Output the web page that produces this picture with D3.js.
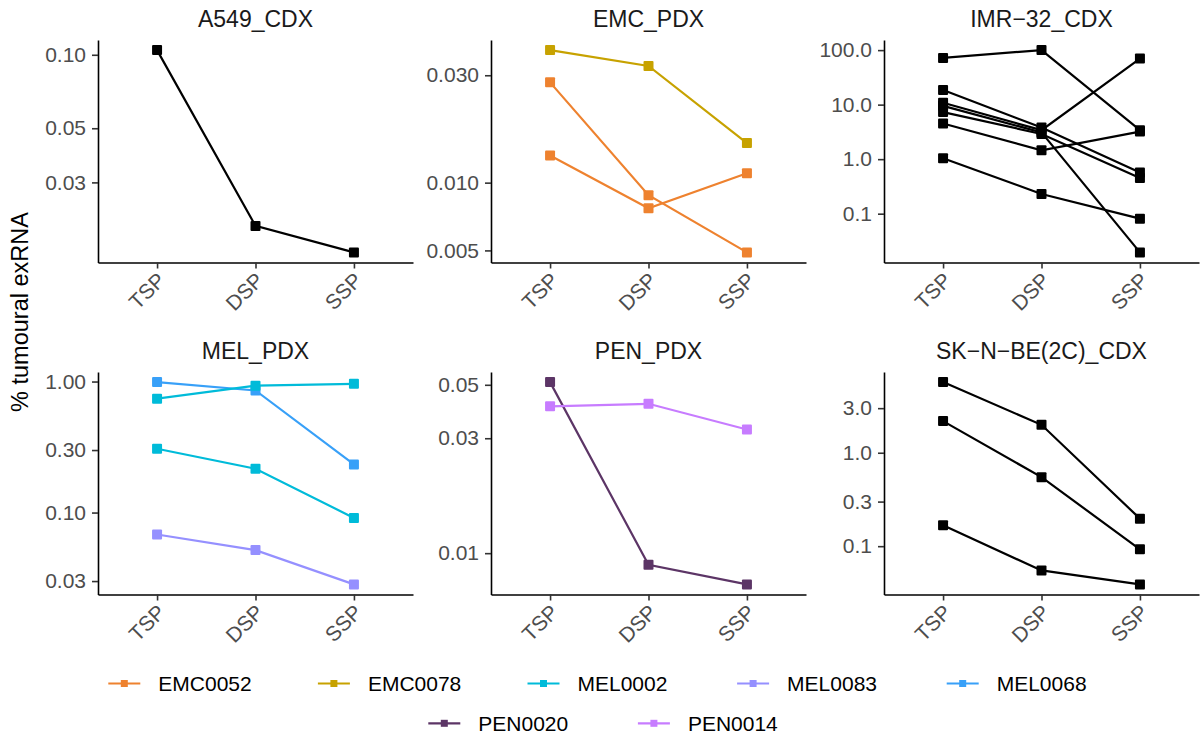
<!DOCTYPE html>
<html>
<head>
<meta charset="utf-8">
<script src="https://cdn.jsdelivr.net/npm/d3@7"></script>
<style>
  html, body { margin: 0; padding: 0; background: #fff; }
  svg { display: block; font-family: "Liberation Sans", Arial, Helvetica, sans-serif; }
</style>
</head>
<body>
<svg id="chart" width="1200" height="738"></svg>
<script>
// Sampling stages on the x axis
const stages = ["TSP", "DSP", "SSP"];

// Facet panels (model names)
const panels = ["A549_CDX", "EMC_PDX", "IMR\u221232_CDX", "MEL_PDX", "PEN_PDX", "SK\u2212N\u2212BE(2C)_CDX"];

// Samples shown in the colour legend, with their colours
const sampleNames  = ["EMC0052", "EMC0078", "MEL0002", "MEL0083", "MEL0068", "PEN0020", "PEN0014"];
const sampleColors = ["#EE822F", "#C7A200", "#00BBD9", "#9590FF", "#38A0F8", "#5C3566", "#C77CFF"];

// % tumoural exRNA per replicate line: [sample (null = CDX, drawn black), TSP, DSP, SSP]
const a549Cdx = [
  [null, 0.1045, 0.0199, 0.0155]
];
const emcPdx = [
  ["EMC0078", 0.0388, 0.0330, 0.0150],
  ["EMC0052", 0.0279, 0.0088, 0.0049],
  ["EMC0052", 0.0132, 0.0077, 0.0110]
];
const imr32Cdx = [
  [null, 72.0, 100.0, 3.4],
  [null, 18.6, 3.8, 0.57],
  [null, 10.8, 3.4, 70.0],
  [null, 9.5, 3.1, 0.0195],
  [null, 7.3, 2.9, 0.45],
  [null, 4.5, 1.45, 3.2],
  [null, 1.04, 0.23, 0.081]
];
const melPdx = [
  ["MEL0068", 0.99, 0.855, 0.233],
  ["MEL0002", 0.74, 0.93, 0.96],
  ["MEL0002", 0.307, 0.216, 0.091],
  ["MEL0083", 0.068, 0.0517, 0.0283]
];
const penPdx = [
  ["PEN0020", 0.0513, 0.00895, 0.00742],
  ["PEN0014", 0.0407, 0.0417, 0.0326]
];
const skNBe2cCdx = [
  [null, 5.7, 1.99, 0.197],
  [null, 2.18, 0.548, 0.0925],
  [null, 0.167, 0.055, 0.039]
];
const panelSeries = [a549Cdx, emcPdx, imr32Cdx, melPdx, penPdx, skNBe2cCdx];

// Y-axis breaks and their labels, one list per panel
const panelTicks = [
  [0.03, 0.05, 0.10],
  [0.005, 0.010, 0.030],
  [0.1, 1, 10, 100],
  [0.03, 0.10, 0.30, 1.00],
  [0.01, 0.03, 0.05],
  [0.1, 0.3, 1, 3]
];
const panelTickLabels = [
  ["0.03", "0.05", "0.10"],
  ["0.005", "0.010", "0.030"],
  ["0.1", "1.0", "10.0", "100.0"],
  ["0.03", "0.10", "0.30", "1.00"],
  ["0.01", "0.03", "0.05"],
  ["0.1", "0.3", "1.0", "3.0"]
];

const yTitle = "% tumoural exRNA";

// ---- layout ----
const svg = d3.select("#chart");
const colLeft = [98, 491, 884];
const rowTop = [40, 372];
const panelW = 315;
const panelH = 222.5;
const colorOf = d3.scaleOrdinal().domain(sampleNames).range(sampleColors);
const fontSize = 21;

panels.forEach((name, i) => {
  const left = colLeft[i % 3];
  const top = rowTop[Math.floor(i / 3)];
  const bottom = top + panelH;
  const series = panelSeries[i];

  const x = d3.scalePoint().domain(stages).range([left, left + panelW]).padding(0.6);

  // log scale with 5% padding of the log range on each side
  const all = series.flatMap(s => s.slice(1));
  const lo = Math.log10(d3.min(all)), hi = Math.log10(d3.max(all));
  const pad = (hi - lo) * 0.05;
  const y = d3.scaleLog().domain([10 ** (lo - pad), 10 ** (hi + pad)]).range([bottom, top]);

  const g = svg.append("g");

  // strip title
  g.append("text")
    .attr("x", left + panelW / 2)
    .attr("y", top - 13)
    .attr("text-anchor", "middle")
    .attr("fill", "#1A1A1A")
    .attr("font-size", 23)
    .text(name);

  // lines and square points
  const line = d3.line().x((d, k) => x(stages[k])).y(d => y(d));
  series.forEach(s => {
    const col = s[0] ? colorOf(s[0]) : "#000000";
    const vals = s.slice(1);
    g.append("path")
      .attr("d", line(vals))
      .attr("fill", "none")
      .attr("stroke", col)
      .attr("stroke-width", 2.2);
    g.selectAll(null)
      .data(vals)
      .enter().append("rect")
      .attr("x", (d, k) => x(stages[k]) - 5)
      .attr("y", d => y(d) - 5)
      .attr("width", 10)
      .attr("height", 10)
      .attr("rx", 1)
      .attr("fill", col);
  });

  // y axis
  const ticks = panelTicks[i], labels = panelTickLabels[i];
  const yAxis = g.append("g")
    .attr("transform", `translate(${left},0)`)
    .call(d3.axisLeft(y).tickValues(ticks).tickFormat((d, k) => labels[k])
      .tickSize(6).tickPadding(6).tickSizeOuter(0));

  // x axis
  const xAxis = g.append("g")
    .attr("transform", `translate(0,${bottom})`)
    .call(d3.axisBottom(x).tickSize(6).tickSizeOuter(0));
  xAxis.selectAll(".tick text")
    .attr("x", 0).attr("y", 0).attr("dy", 0)
    .attr("text-anchor", "end")
    .attr("transform", "translate(9,19) rotate(-45)");

  [yAxis, xAxis].forEach(ax => {
    ax.select(".domain").attr("stroke", "#000").attr("stroke-width", 1.6);
    ax.selectAll(".tick line").attr("stroke", "#333").attr("stroke-width", 1.6);
    ax.selectAll(".tick text")
      .attr("fill", "#4D4D4D")
      .attr("font-size", fontSize)
      .attr("font-family", "Liberation Sans, Arial, sans-serif");
  });
});

// shared y-axis title
svg.append("text")
  .attr("transform", "translate(28,312) rotate(-90)")
  .attr("text-anchor", "middle")
  .attr("font-size", 23.5)
  .attr("fill", "#000")
  .text(yTitle);

// ---- legend: 5 items on the first row, 2 centred on the second ----
const legendRows = [
  { y: 683.5, start: 108.3, items: sampleNames.slice(0, 5) },
  { y: 723.3, start: 428.3, items: sampleNames.slice(5) }
];
const itemPitch = 209.6;
legendRows.forEach(row => {
  row.items.forEach((nm, k) => {
    const x0 = row.start + k * itemPitch;
    const lg = svg.append("g");
    lg.append("line")
      .attr("x1", x0).attr("x2", x0 + 32)
      .attr("y1", row.y).attr("y2", row.y)
      .attr("stroke", colorOf(nm)).attr("stroke-width", 2.2);
    lg.append("rect")
      .attr("x", x0 + 16 - 3.5).attr("y", row.y - 3.5)
      .attr("width", 7).attr("height", 7)
      .attr("fill", colorOf(nm));
    lg.append("text")
      .attr("x", x0 + 50).attr("y", row.y)
      .attr("dy", "0.36em")
      .attr("font-size", fontSize)
      .attr("fill", "#000")
      .text(nm);
  });
});
</script>
</body>
</html>
